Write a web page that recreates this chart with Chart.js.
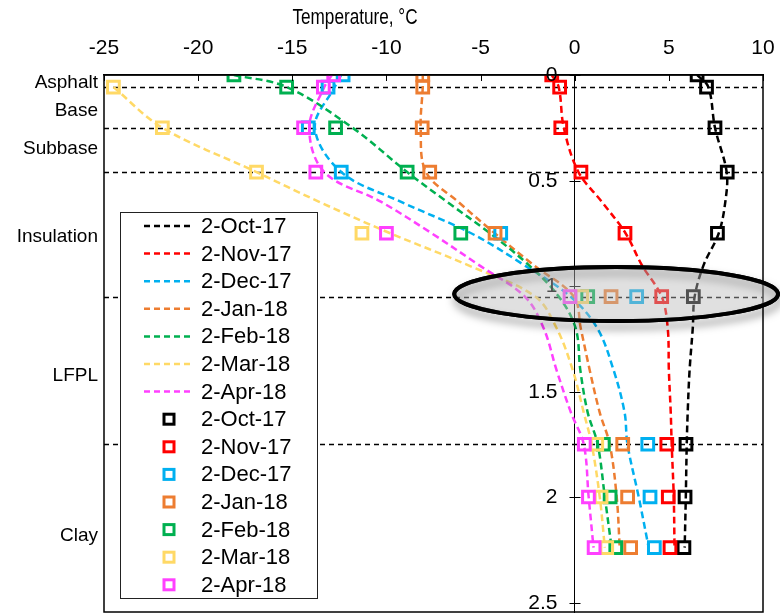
<!DOCTYPE html>
<html>
<head>
<meta charset="utf-8">
<script src="https://cdn.jsdelivr.net/npm/chart.js@4.4.1/dist/chart.umd.min.js"></script>
<style>
  html, body { margin: 0; padding: 0; background: #fff; }
</style>
</head>
<body>
<canvas id="chart" width="780" height="613"></canvas>
<script>
// series names / colours
const dates = ['2-Oct-17', '2-Nov-17', '2-Dec-17', '2-Jan-18', '2-Feb-18', '2-Mar-18', '2-Apr-18'];
const colors = ['#000000', '#FF0000', '#00B0F0', '#ED7D31', '#00B050', '#FFD966', '#FF40FF'];

// measured temperatures (squares), depth in m
const markDepths = [0, 0.057, 0.25, 0.46, 0.75, 1.05, 1.75, 2.0, 2.24];
const markOct = [6.5, 7.0, 7.45, 8.1, 7.58, 6.3, 5.91, 5.86, 5.8];
const markNov = [-1.22, -0.8, -0.74, 0.33, 2.67, 4.62, 4.89, 4.97, 5.06];
const markDec = [-12.3, -13.1, -14.15, -12.4, -3.93, 3.29, 3.88, 4.0, 4.23];
const markJan = [-8.07, -8.07, -8.1, -7.7, -4.23, 1.93, 2.55, 2.81, 2.97];
const markFeb = [-18.1, -15.3, -12.7, -8.9, -6.05, 0.69, 1.52, 1.88, 2.18];
const markMar = [null, -24.5, -21.9, -16.9, -11.3, 0.37, 1.17, 1.40, 1.70];
const markApr = [-12.8, -13.35, -14.4, -13.75, -10.0, -0.25, 0.51, 0.73, 1.03];

// dashed profiles
const lineDepths = [0, 0.057, 0.25, 0.46, 0.6, 0.75, 0.9, 1.05, 1.2, 1.4, 1.6, 1.75, 2.0, 2.24];
const lineOct = [6.5, 7.1, 7.45, 8.07, 8.0, 7.65, 6.85, 6.37, 6.27, 6.1, 6.0, 5.95, 5.9, 5.84];
const lineNov = [-1.22, -0.85, -0.58, 0.2, 1.43, 2.7, 3.56, 4.62, 4.94, 5.0, 5.1, 5.15, 5.26, 5.3];
const lineDec = [-12.4, -12.75, -13.8, -12.4, -9.25, -5.5, -2.7, -0.23, 1.2, 2.07, 2.65, 2.8, 3.4, 3.93];
const lineJan = [-8.07, -8.07, -8.18, -7.9, -6.2, -4.25, -2.2, -0.05, 0.32, 0.8, 1.33, 1.86, 2.23, 2.39];
const lineFeb = [-18.1, -15.3, -11.8, -8.9, -6.8, -4.5, -2.45, -0.85, 0.05, 0.3, 0.69, 1.22, 1.6, 1.96];
const lineMar = [null, -24.5, -21.9, -16.9, -13.6, -9.8, -5.7, -2.1, -0.96, -0.1, 0.48, 0.9, 1.33, 1.6];
const lineApr = [-12.9, -13.3, -14.1, -13.3, -10.3, -7.6, -5.1, -2.65, -1.65, -0.96, -0.2, 0.48, 0.74, 1.0];

const xTicks = [-25, -20, -15, -10, -5, 0, 5, 10];
const yTicks = [0, 0.5, 1, 1.5, 2, 2.5];
const xTitle = 'Temperature, °C';

// soil layers
const layerNames = ['Asphalt', 'Base', 'Subbase', 'Insulation', 'LFPL', 'Clay'];
const layerDepths = [0.033, 0.166, 0.346, 0.763, 1.42, 2.18];
const boundaryDepths = [0.057, 0.25, 0.46, 1.05, 1.75];

// highlighted zone (centre and radii in data units)
const ringCenter = [2.2, 1.038];
const ringRadius = [8.6, 0.128];

const FONT = '"Liberation Sans", Arial, sans-serif';
Chart.defaults.font.family = FONT;
Chart.defaults.color = '#000';

function toPoints(depths, temps) {
    const pts = [];
    depths.forEach((d, i) => {
        if (temps[i] !== null) pts.push({ x: temps[i], y: d });
    });
    return pts;
}

const lineSets = [lineOct, lineNov, lineDec, lineJan, lineFeb, lineMar, lineApr];
const markSets = [markOct, markNov, markDec, markJan, markFeb, markMar, markApr];

const datasets = [];
lineSets.forEach((s, i) => {
    datasets.push({
        label: dates[i],
        data: toPoints(lineDepths, s),
        showLine: true,
        borderColor: colors[i],
        borderWidth: 2.5,
        borderDash: [7, 4],
        tension: 0.35,
        pointRadius: 0,
        order: 100 - i
    });
});
markSets.forEach((s, i) => {
    datasets.push({
        label: dates[i],
        data: toPoints(markDepths, s),
        showLine: false,
        borderColor: colors[i],
        backgroundColor: 'rgba(0,0,0,0)',
        pointStyle: 'rect',
        pointRadius: 8.3,
        pointBorderWidth: 3,
        order: 50 - i
    });
});

const decor = {
    id: 'decor',
    beforeDatasetsDraw(chart) {
        const { ctx, chartArea: a, scales: { y } } = chart;
        ctx.save();
        ctx.strokeStyle = '#000';
        ctx.lineWidth = 1.3;
        ctx.setLineDash([5, 4]);
        boundaryDepths.forEach(d => {
            const py = Math.round(y.getPixelForValue(d)) + 0.5;
            ctx.beginPath();
            ctx.moveTo(a.left, py);
            ctx.lineTo(a.right, py);
            ctx.stroke();
        });
        ctx.restore();
    },
    afterDraw(chart) {
        const { ctx, chartArea: a, scales: { x, y } } = chart;
        ctx.save();
        // frame
        ctx.strokeStyle = '#000';
        ctx.lineWidth = 1.5;
        ctx.strokeRect(a.left, a.top, a.right - a.left, a.bottom - a.top);
        // axis title, a bit left of centre and narrow like the original
        ctx.save();
        ctx.fillStyle = '#000';
        ctx.font = '22px ' + FONT;
        ctx.textAlign = 'center';
        ctx.textBaseline = 'middle';
        ctx.translate(355, 18);
        ctx.scale(0.78, 1);
        ctx.fillText(xTitle, 0, 0);
        ctx.restore();
        // tick marks and depth labels
        ctx.lineWidth = 1;
        xTicks.forEach(v => {
            const px = Math.round(x.getPixelForValue(v)) + 0.5;
            ctx.beginPath(); ctx.moveTo(px, a.top); ctx.lineTo(px, a.top + 6); ctx.stroke();
        });
        const x0 = Math.round(x.getPixelForValue(0)) + 0.5;
        ctx.fillStyle = '#000';
        ctx.font = '21px ' + FONT;
        ctx.textAlign = 'right';
        ctx.textBaseline = 'middle';
        yTicks.forEach(v => {
            const py = Math.round(y.getPixelForValue(v)) + 0.5;
            ctx.beginPath(); ctx.moveTo(x0 - 6, py); ctx.lineTo(x0 + 5, py); ctx.stroke();
            ctx.fillText(String(v), x0 - 18, py);
        });
        // layer names
        ctx.font = '19px ' + FONT;
        layerNames.forEach((n, i) => ctx.fillText(n, a.left - 6, y.getPixelForValue(layerDepths[i]) + 1));

        // legend box
        const lx = 120, ly = 212, lw = 197, lh = 386;
        ctx.fillStyle = '#fff';
        ctx.fillRect(lx, ly, lw, lh);
        ctx.strokeStyle = '#222';
        ctx.lineWidth = 1;
        ctx.strokeRect(lx + 0.5, ly + 0.5, lw, lh);
        ctx.font = '22px ' + FONT;
        ctx.textAlign = 'left';
        chart.data.datasets.forEach((ds, i) => {
            const cy = ly + 14 + i * 27.6;
            ctx.strokeStyle = ds.borderColor;
            if (ds.showLine) {
                ctx.lineWidth = 2.5;
                ctx.setLineDash([6, 4]);
                ctx.beginPath(); ctx.moveTo(lx + 24, cy); ctx.lineTo(lx + 74, cy); ctx.stroke();
                ctx.setLineDash([]);
            } else {
                ctx.lineWidth = 3;
                ctx.strokeRect(lx + 44, cy - 5, 10, 10);
            }
            ctx.fillStyle = '#000';
            ctx.fillText(ds.label, lx + 81, cy + 1);
        });

        // highlight ellipse
        const cx = x.getPixelForValue(ringCenter[0]);
        const cy = y.getPixelForValue(ringCenter[1]);
        const rx = Math.abs(x.getPixelForValue(ringCenter[0] + ringRadius[0]) - cx);
        const ry = Math.abs(y.getPixelForValue(ringCenter[1] + ringRadius[1]) - cy);
        ctx.beginPath();
        ctx.ellipse(cx, cy, rx, ry, 0, 0, Math.PI * 2);
        ctx.shadowColor = 'rgba(0,0,0,0.5)';
        ctx.shadowBlur = 9;
        ctx.shadowOffsetX = 2;
        ctx.shadowOffsetY = 6;
        ctx.lineWidth = 4;
        ctx.strokeStyle = '#000';
        ctx.stroke();
        ctx.shadowColor = 'rgba(0,0,0,0)';
        ctx.fillStyle = 'rgba(184,184,184,0.44)';
        ctx.fill();
        ctx.stroke();
        ctx.restore();
    }
};

new Chart(document.getElementById('chart'), {
    type: 'scatter',
    data: { datasets: datasets },
    options: {
        responsive: false,
        animation: false,
        devicePixelRatio: 1,
        layout: { autoPadding: false, padding: { left: 104, right: 17, top: 0, bottom: 1 } },
        plugins: { legend: { display: false }, tooltip: { enabled: false } },
        scales: {
            x: {
                type: 'linear',
                position: 'top',
                min: -25,
                max: 10,
                afterBuildTicks: s => { s.ticks = xTicks.map(v => ({ value: v })); },
                afterFit: s => { s.height = 75; s.paddingLeft = 0; s.paddingRight = 0; },
                grid: { display: false },
                border: { color: '#000', width: 1.5 },
                ticks: { color: '#000', font: { size: 21 }, padding: 6, maxRotation: 0 },
                title: { display: false }
            },
            y: {
                type: 'linear',
                position: { x: 0 },
                reverse: true,
                min: 0,
                max: 2.545,
                afterBuildTicks: s => { s.ticks = yTicks.map(v => ({ value: v })); },
                afterFit: s => { s.paddingTop = 0; s.paddingBottom = 0; },
                grid: { display: false },
                border: { color: '#000', width: 1 },
                ticks: { display: false }
            }
        }
    },
    plugins: [decor]
});
</script>
</body>
</html>
